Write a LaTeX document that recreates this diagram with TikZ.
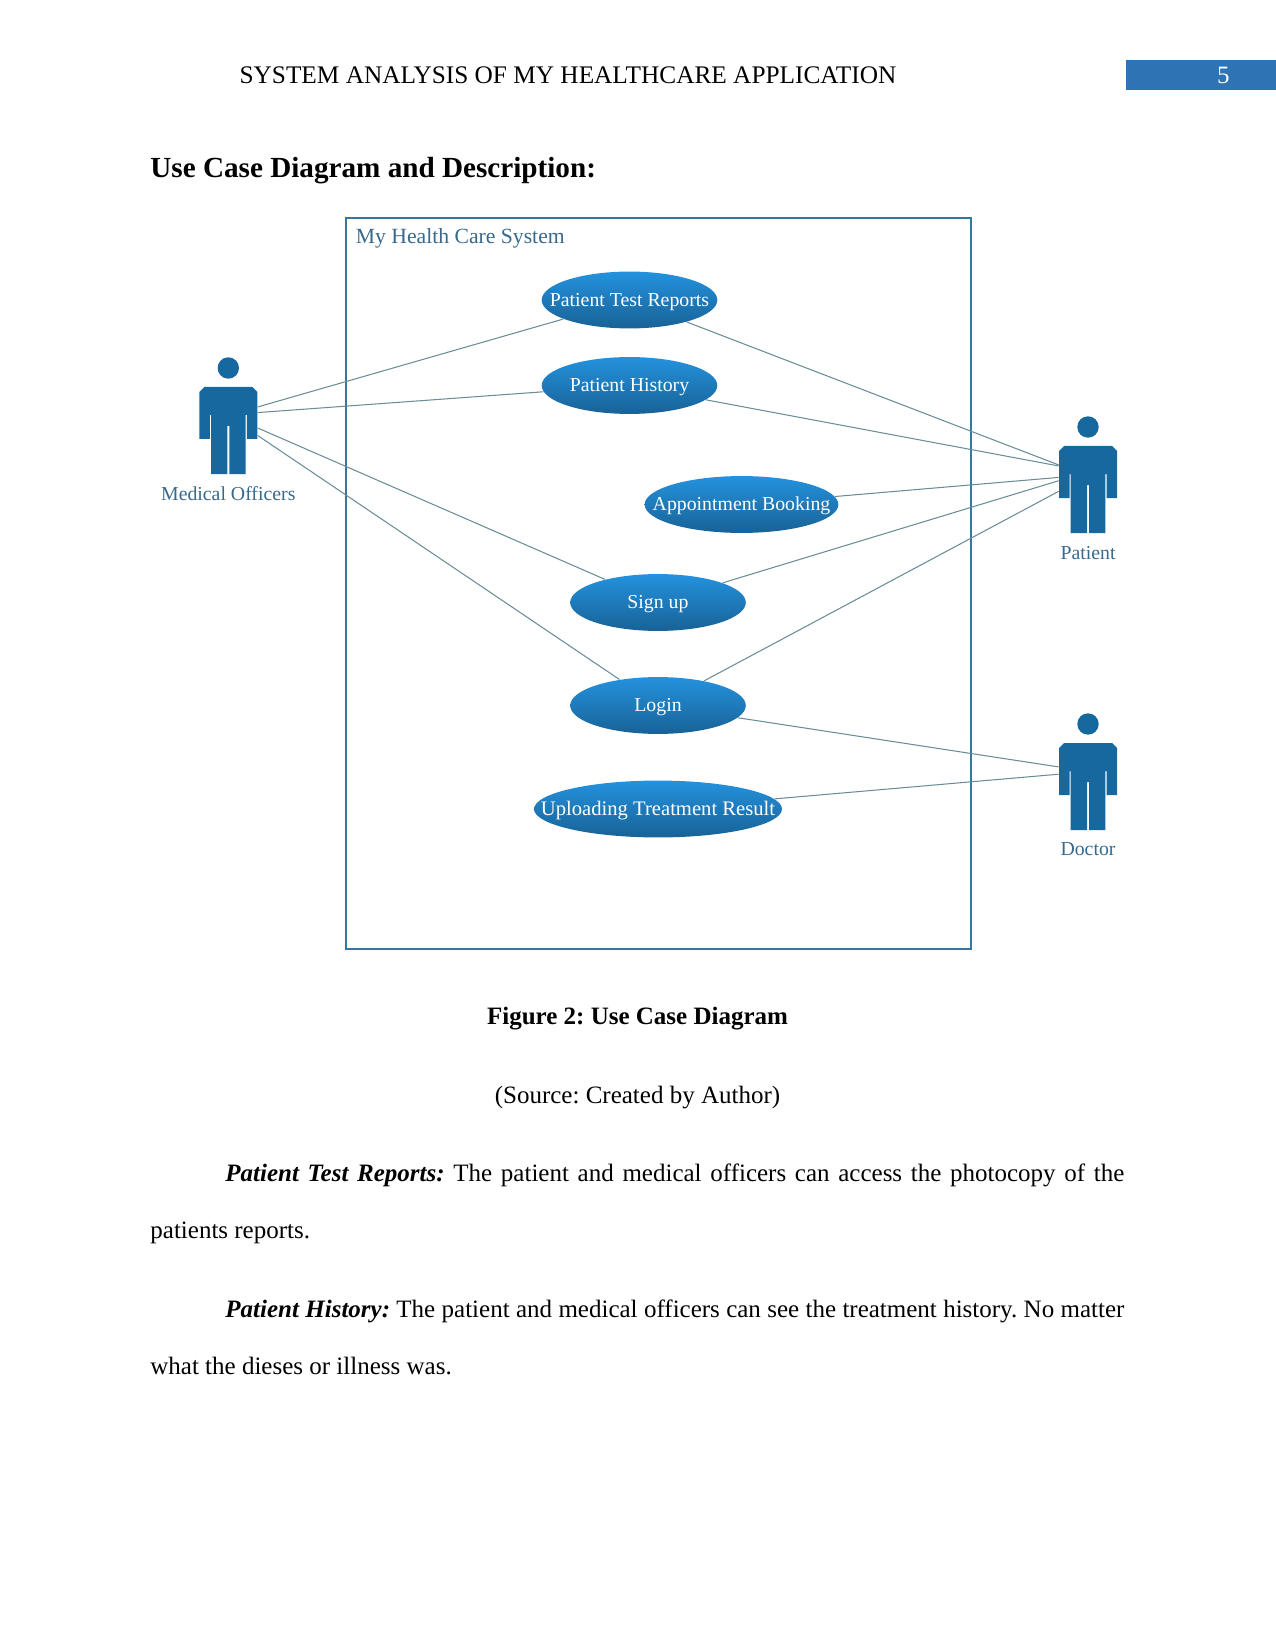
\documentclass[tikz,border=0pt]{standalone}
\usepackage{fontspec}
\setmainfont{Liberation Serif}
\usetikzlibrary{positioning,shapes.geometric}
\definecolor{actorblue}{RGB}{24,104,160}
\definecolor{framecol}{RGB}{50,120,160}
\definecolor{linecol}{RGB}{105,140,150}
\definecolor{labelcol}{RGB}{55,105,140}
\definecolor{casetop}{RGB}{36,146,222}
\definecolor{casebot}{RGB}{24,98,150}
\definecolor{pagebar}{RGB}{46,116,181}
\newcommand{\casetext}[1]{\makebox[0pt]{\raisebox{-2.9pt}[0pt][0pt]{#1}}}

\tikzset{
  actor/.pic={
    \fill[actorblue] (0,-19) circle (10.7);
    \fill[actorblue] (-24,0) -- (24,0) -- (29,5) -- (29,52) -- (18.5,52) -- (18.5,28) -- (17.3,28)
      -- (17.3,87) -- (1,87) -- (1,39) -- (-1,39) -- (-1,87) -- (-17.3,87) -- (-17.3,28)
      -- (-18.5,28) -- (-18.5,52) -- (-29,52) -- (-29,5) -- (-24,0) -- cycle;
    \node[minimum width=27.84pt, minimum height=41.76pt, inner sep=0pt] (-body) at (0,43.5) {};
  }
}

\begin{document}
\begin{tikzpicture}[
  x=0.48pt, y=-0.48pt,
  node distance=4pt,
  usecase/.style={ellipse, inner sep=0pt, minimum height=27.3pt, top color=casetop, bottom color=casebot, text=white, font=\fontsize{9.5}{11}\selectfont},
  actorlabel/.style={text=labelcol, inner sep=0pt, font=\fontsize{9.5}{11}\selectfont},
  assoc/.style={draw=linecol, line width=0.5pt},
  para/.style={anchor=north west, inner sep=0pt, text width=467.5pt, align=justify, font=\fontsize{12}{27.3}\selectfont}
]
\useasboundingbox (0,0) rectangle (1275,1650);
% page head
\node[fill=pagebar, minimum width=72pt, minimum height=14pt, inner sep=0pt, text=white, font=\fontsize{12}{14}\selectfont] (pagenum) at (1200.5,75) {\hspace*{22pt}5};
\node[font=\fontsize{12.15}{14}\selectfont, inner sep=0pt] (head) at (568,75) {SYSTEM ANALYSIS OF MY HEALTHCARE APPLICATION};
\node[anchor=west, inner sep=0pt, font=\fontsize{14}{16}\selectfont\bfseries] (title) at (150,171) {Use Case Diagram and Description:};

% system frame
\node[draw=framecol, line width=1.2pt, minimum width=300pt, minimum height=351pt, inner sep=0pt] (system) at (658.5,583.5) {};
\node[anchor=west, inner sep=0pt, text=labelcol, font=\fontsize{10.4}{12}\selectfont] (systitle) at (355.5,238) {My Health Care System};

% use cases
\node[usecase, minimum width=84.3pt] (reports) at (629.5,300) {\casetext{Patient Test Reports}};
\node[usecase, minimum width=84.3pt] (history) at (629.5,385.5) {\casetext{Patient History}};
\node[usecase, minimum width=93pt] (booking) at (741.5,504.5) {\casetext{Appointment Booking}};
\node[usecase, minimum width=84.3pt] (signup) at (658,602.5) {\casetext{Sign up}};
\node[usecase, minimum width=84.3pt] (login) at (658,705.5) {\casetext{Login}};
\node[usecase, minimum width=119pt] (upload) at (658,809) {\casetext{\fontsize{9.9}{11}\selectfont Uploading Treatment Result}};

% actors
\pic (med) at (228.3,387) {actor};
\pic (pat) at (1088,446) {actor};
\pic (doc) at (1088,743) {actor};
\node[actorlabel, below=5.4pt of med-body] (medlabel) {Medical Officers};
\node[actorlabel, below=5.8pt of pat-body] (patlabel) {Patient};
\node[actorlabel, below=5.8pt of doc-body] (doclabel) {Doctor};

% connectors
\foreach \s/\t in {11.3pt/reports, 8.6pt/history, 1.2pt/signup, -2.4pt/login}
  \draw[assoc] ([yshift=\s]med-body.east) -- (\t);
\foreach \s/\t in {11.8pt/reports, 11.3pt/history, 5.8pt/booking, 4.2pt/signup, -0.9pt/login}
  \draw[assoc] ([yshift=\s]pat-body.west) -- (\t);
\foreach \s/\t in {9.4pt/login, 5.9pt/upload}
  \draw[assoc] ([yshift=\s]doc-body.west) -- (\t);

% text below
\frenchspacing
\node[inner sep=0pt, font=\fontsize{12}{14}\selectfont\bfseries] (figcap) at (637.5,1019) {Figure 2: Use Case Diagram};
\node[inner sep=0pt, font=\fontsize{12}{14}\selectfont] (figsrc) at (637.5,1098) {(Source: Created by Author)};
\node[para] (parareports) at (150,1163.3) {\parindent=36pt\indent\textbf{\textit{Patient Test Reports:}} The patient and medical officers can access the photocopy of the patients reports.};
\node[para] (parahistory) at (150,1299.3) {\parindent=36pt\indent\textbf{\textit{Patient History:}} The patient and medical officers can see the treatment history. No matter what the dieses or illness was.};
\end{tikzpicture}
\end{document}
